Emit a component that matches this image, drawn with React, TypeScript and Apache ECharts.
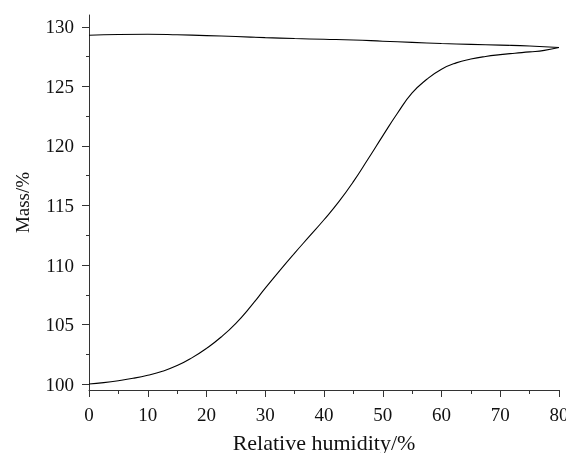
import React, { useEffect, useRef } from "react";
import * as echarts from "echarts";

// Desorption branch (upper curve)
const desorptionRH = [0, 5, 10, 15, 20, 25, 30, 35, 40, 45, 50, 55, 60, 65, 70, 75, 80];
const desorptionMass = [129.3, 129.36, 129.38, 129.34, 129.27, 129.19, 129.1, 129.02, 128.96, 128.9, 128.8, 128.7, 128.6, 128.53, 128.47, 128.4, 128.27];

// Sorption branch (lower curve)
const sorptionRH = [0, 2.5, 5, 7.5, 10, 12.5, 15, 17.5, 20, 22.5, 25, 27.5, 30, 32.5, 35, 37.5, 40, 42.5, 45, 47.5, 50, 52.5, 55, 57.5, 60, 62.5, 65, 67.5, 70, 72.5, 75, 77.5, 80];
const sorptionMass = [100.0, 100.12, 100.28, 100.48, 100.74, 101.08, 101.55, 102.2, 103.0, 103.95, 105.1, 106.5, 108.05, 109.55, 111.0, 112.4, 113.8, 115.3, 117.0, 118.9, 120.85, 122.75, 124.45, 125.6, 126.45, 126.98, 127.3, 127.52, 127.67, 127.79, 127.9, 128.03, 128.27];

const yMajorTicks = [100, 105, 110, 115, 120, 125, 130];
const yMinorTicks = [102.5, 107.5, 112.5, 117.5, 122.5, 127.5];

const xTitle = "Relative humidity/%";
const yTitle = "Mass/%";

export default function App() {
  const ref = useRef<HTMLDivElement>(null);
  useEffect(() => {
    if (!ref.current) return;
    const chart = echarts.init(ref.current, undefined, { renderer: "svg" });
    chart.setOption({
      animation: false,
      grid: { left: 89, right: 7, top: 15, bottom: 63, outerBoundsMode: "none" },
      xAxis: {
        type: "value",
        min: 0,
        max: 80,
        interval: 10,
        name: xTitle,
        nameLocation: "middle",
        nameGap: 41,
        nameTextStyle: { fontFamily: "Liberation Serif", fontSize: 22, color: "#111" },
        axisLine: { show: true, lineStyle: { color: "#333", width: 1 } },
        axisTick: { show: true, length: 7, lineStyle: { color: "#333" } },
        minorTick: { show: true, splitNumber: 2, length: 4, lineStyle: { color: "#333" } },
        axisLabel: { fontFamily: "Liberation Serif", fontSize: 19, color: "#111", margin: 15 },
        splitLine: { show: false },
      },
      yAxis: [
        {
          type: "value",
          min: 99.5,
          max: 131,
          position: "left",
          name: yTitle,
          nameLocation: "middle",
          nameGap: 57,
          nameTextStyle: { fontFamily: "Liberation Serif", fontSize: 19, color: "#111" },
          axisLine: { show: true, lineStyle: { color: "#333", width: 1 } },
          axisTick: { show: true, length: 7, customValues: yMajorTicks, lineStyle: { color: "#333" } },
          axisLabel: { fontFamily: "Liberation Serif", fontSize: 19, color: "#111", margin: 15, customValues: yMajorTicks },
          splitLine: { show: false },
        },
        {
          type: "value",
          min: 99.5,
          max: 131,
          position: "left",
          axisLine: { show: false },
          axisTick: { show: true, length: 3, customValues: yMinorTicks, lineStyle: { color: "#333" } },
          axisLabel: { show: false },
          splitLine: { show: false },
        },
      ],
      series: [
        {
          type: "line",
          data: sorptionRH.map((x, i) => [x, sorptionMass[i]]),
          showSymbol: false,
          smooth: 0.5,
          lineStyle: { color: "#000", width: 1.1 },
          yAxisIndex: 0,
        },
        {
          type: "line",
          data: desorptionRH.map((x, i) => [x, desorptionMass[i]]),
          showSymbol: false,
          smooth: 0.5,
          lineStyle: { color: "#000", width: 1.1 },
          yAxisIndex: 0,
        },
      ],
    });
    return () => chart.dispose();
  }, []);
  return <div ref={ref} style={{ position: "fixed", left: 0, top: 0, width: 566, height: 453 }} />;
}
